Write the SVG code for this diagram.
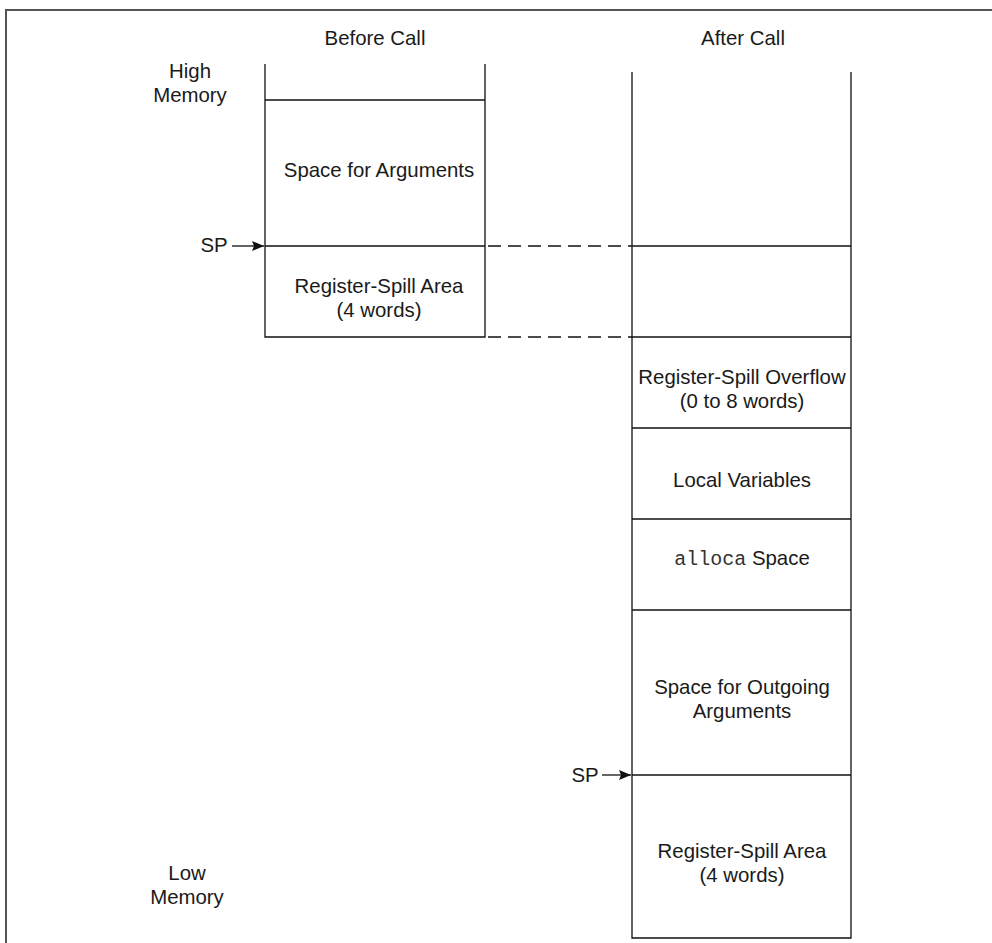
<svg xmlns="http://www.w3.org/2000/svg" width="992" height="943" viewBox="0 0 992 943">
<style>
.t{font-family:"Liberation Sans",Arial,sans-serif;font-size:20.4px;fill:#1a1a1a;text-anchor:middle}
.m{font-family:"Liberation Mono","Courier New",monospace;font-size:20px;fill:#333}
.ln{stroke:#111;stroke-width:1.3;fill:none}
.d{stroke:#111;stroke-width:1.3;fill:none;stroke-dasharray:13 7}
</style>
<defs>
<marker id="ah" markerWidth="12" markerHeight="10" refX="12" refY="5" orient="auto" markerUnits="userSpaceOnUse">
<path d="M0,0 L12,5 L0,10 L2,5 z" fill="#111"/>
</marker>
</defs>
<rect width="992" height="943" fill="#fff"/>
<g id="frame">
<path d="M6,943 V10 H992" stroke="#555" stroke-width="2" fill="none"/>
</g>
<g id="labels">
<text class="t" x="375" y="45">Before Call</text>
<text class="t" x="743" y="45">After Call</text>
<text class="t" x="190" y="78">High</text>
<text class="t" x="190" y="102">Memory</text>
<text class="t" x="187" y="880">Low</text>
<text class="t" x="187" y="904">Memory</text>
</g>
<g id="before-stack">
<path class="ln" d="M265,64 V337 H485 V64"/>
<line class="ln" x1="265" y1="100" x2="485" y2="100"/>
<line class="ln" x1="265" y1="246" x2="485" y2="246"/>
</g>
<g id="before-args"><text class="t" x="379" y="177">Space for Arguments</text></g>
<g id="before-spill"><text class="t" x="379" y="293">Register-Spill Area</text><text class="t" x="379" y="317">(4 words)</text></g>
<g id="after-stack">
<path class="ln" d="M632,72 V938 H851 V72"/>
<line class="ln" x1="632" y1="246" x2="851" y2="246"/>
<line class="ln" x1="632" y1="337" x2="851" y2="337"/>
<line class="ln" x1="632" y1="428" x2="851" y2="428"/>
<line class="ln" x1="632" y1="519" x2="851" y2="519"/>
<line class="ln" x1="632" y1="610" x2="851" y2="610"/>
<line class="ln" x1="632" y1="775" x2="851" y2="775"/>
</g>
<g id="after-overflow"><text class="t" x="742" y="384">Register-Spill Overflow</text><text class="t" x="742" y="408">(0 to 8 words)</text></g>
<g id="after-locals"><text class="t" x="742" y="487">Local Variables</text></g>
<g id="after-alloca"><text class="t" x="742" y="565"><tspan class="m">alloca</tspan> Space</text></g>
<g id="after-outgoing"><text class="t" x="742" y="694">Space for Outgoing</text><text class="t" x="742" y="718">Arguments</text></g>
<g id="after-spill"><text class="t" x="742" y="858">Register-Spill Area</text><text class="t" x="742" y="882">(4 words)</text></g>
<g id="sp-before"><text class="t" x="214" y="252">SP</text></g>
<g id="sp-after"><text class="t" x="585" y="782">SP</text></g>
<g id="connectors">
<line class="d" x1="488" y1="246" x2="632" y2="246"/>
<line class="d" x1="488" y1="337" x2="632" y2="337"/>
<line class="ln" x1="232" y1="246" x2="264" y2="246" marker-end="url(#ah)"/>
<line class="ln" x1="602" y1="775" x2="631" y2="775" marker-end="url(#ah)"/>
</g>
</svg>
